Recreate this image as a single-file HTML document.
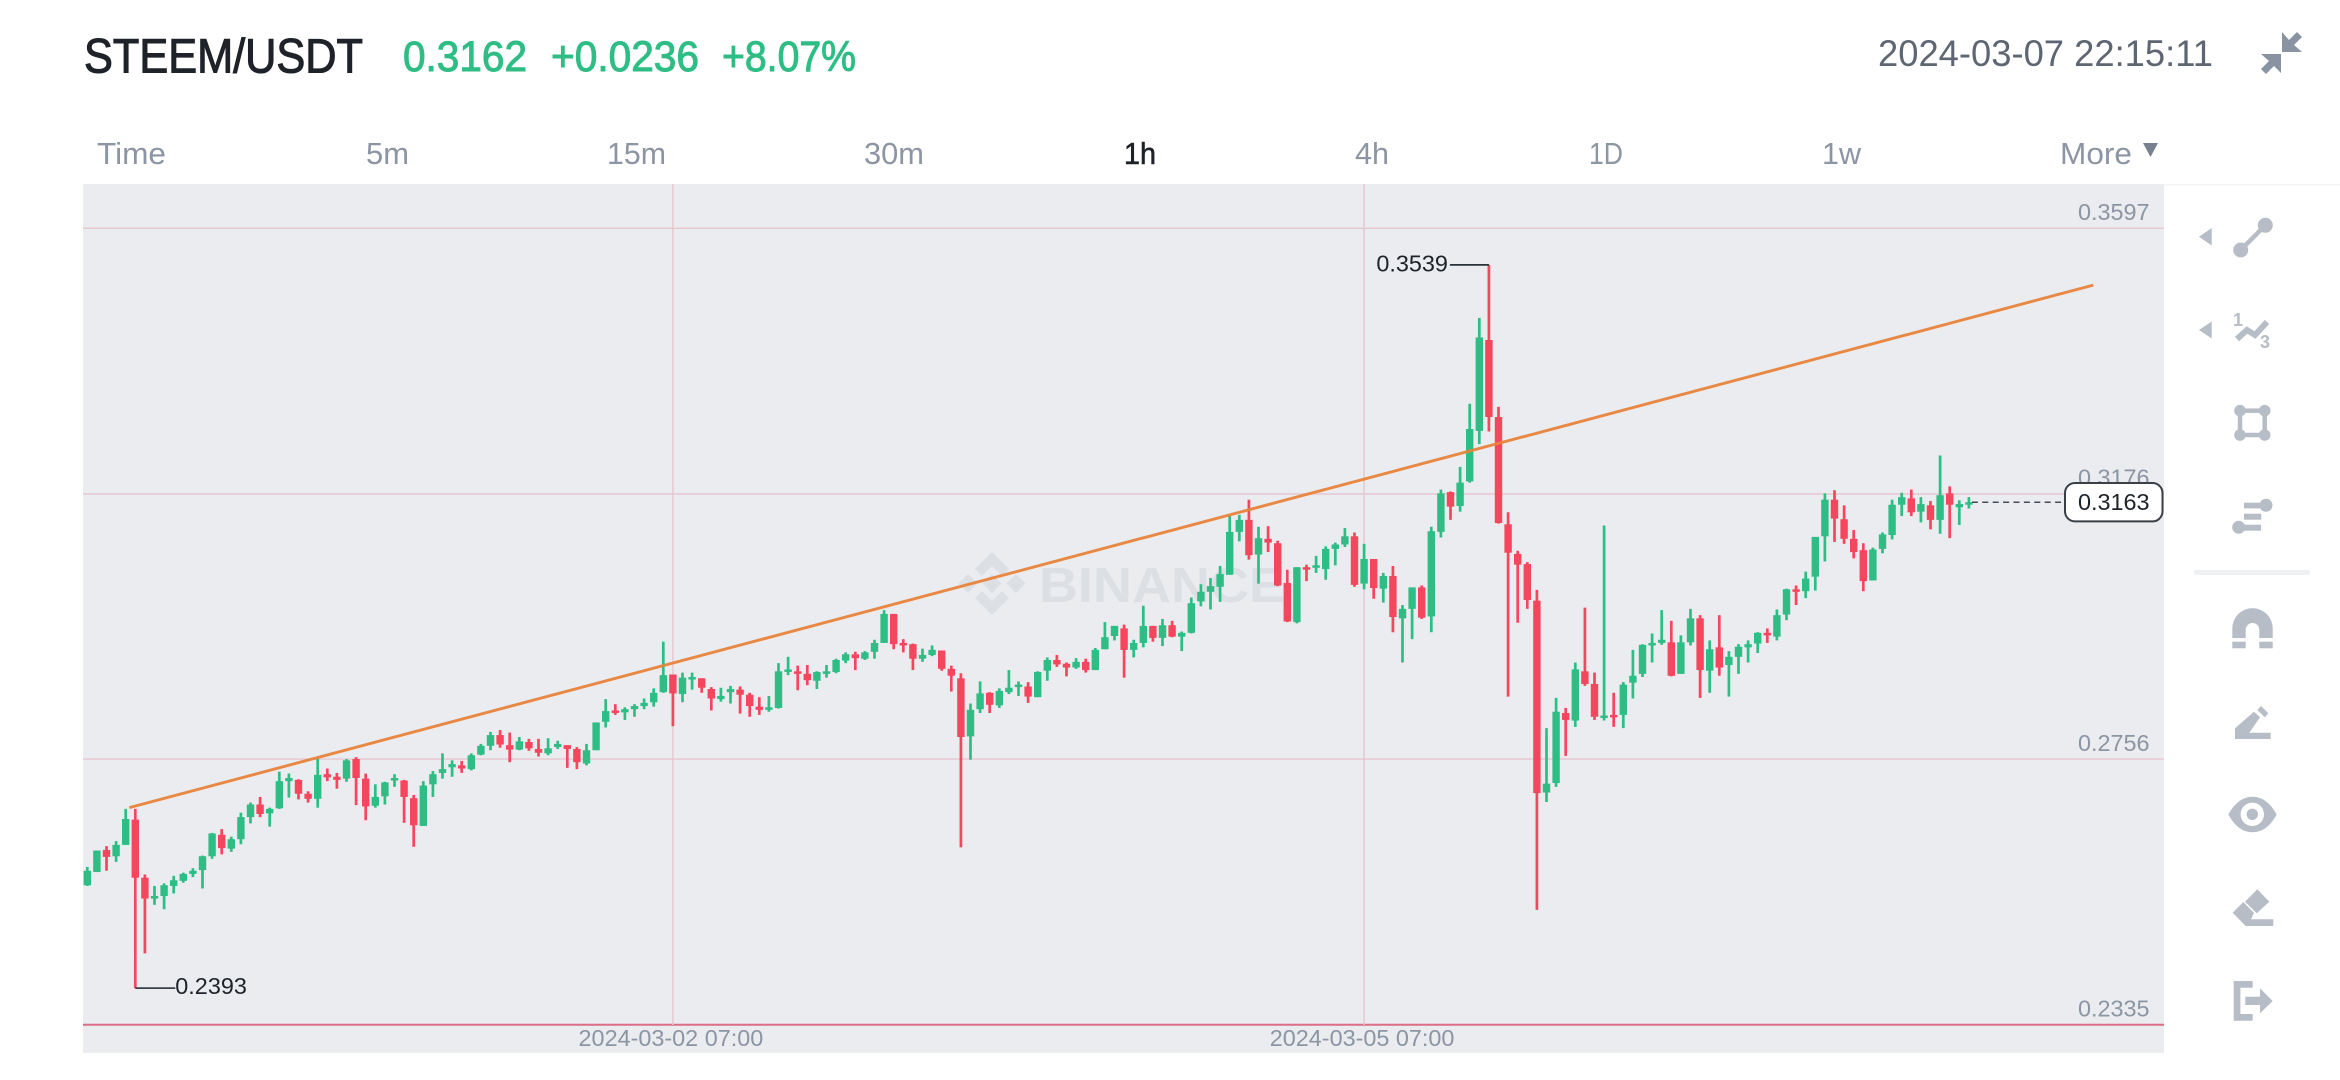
<!DOCTYPE html>
<html lang="en">
<head>
<meta charset="utf-8">
<title>STEEM/USDT chart</title>
<style>
html,body{margin:0;padding:0;background:#fff;width:2340px;height:1080px;overflow:hidden}
svg{display:block}
text{font-family:"Liberation Sans",sans-serif}
</style>
</head>
<body>
<svg id="page" xmlns="http://www.w3.org/2000/svg" width="2340" height="1080" viewBox="0 0 2340 1080">
  <rect x="0" y="0" width="2340" height="1080" fill="#ffffff"/>

  <g>
    <text x="84" y="72.5" font-size="48" fill="#1E2329" stroke="#1E2329" stroke-width="1.1" textLength="279" lengthAdjust="spacingAndGlyphs">STEEM/USDT</text>
    <text x="403" y="71" font-size="43" fill="#2EBD85" stroke="#2EBD85" stroke-width="1" textLength="124" lengthAdjust="spacingAndGlyphs">0.3162</text>
    <text x="551" y="71" font-size="43" fill="#2EBD85" stroke="#2EBD85" stroke-width="1" textLength="148" lengthAdjust="spacingAndGlyphs">+0.0236</text>
    <text x="722" y="71" font-size="43" fill="#2EBD85" stroke="#2EBD85" stroke-width="1" textLength="134" lengthAdjust="spacingAndGlyphs">+8.07%</text>
    <text x="1878" y="66" font-size="37" fill="#5E6673" textLength="335" lengthAdjust="spacingAndGlyphs">2024-03-07 22:15:11</text>
    <g fill="#8A93A2">
      <polygon points="2282,32 2289,40 2297,32 2302,37 2294,45 2302,52 2282,52"/>
      <polygon points="2261,54 2281,54 2281,73 2274,66 2266,74 2261,69 2269,61"/>
    </g>
  </g>

  <g font-size="31" fill="#8C95A3">
    <text x="97" y="164" textLength="69" lengthAdjust="spacingAndGlyphs">Time</text>
    <text x="366" y="164" textLength="43" lengthAdjust="spacingAndGlyphs">5m</text>
    <text x="607" y="164" textLength="59" lengthAdjust="spacingAndGlyphs">15m</text>
    <text x="864" y="164" textLength="60" lengthAdjust="spacingAndGlyphs">30m</text>
    <text x="1124" y="164" fill="#1E2329" stroke="#1E2329" stroke-width="0.6" textLength="32" lengthAdjust="spacingAndGlyphs">1h</text>
    <text x="1355" y="164" textLength="34" lengthAdjust="spacingAndGlyphs">4h</text>
    <text x="1589" y="164" textLength="34" lengthAdjust="spacingAndGlyphs">1D</text>
    <text x="1822" y="164" textLength="39" lengthAdjust="spacingAndGlyphs">1w</text>
    <text x="2060" y="164" textLength="72" lengthAdjust="spacingAndGlyphs">More</text>
    <polygon points="2143,143 2158,143 2150.5,157" fill="#76808F"/>
  </g>

  <rect x="83" y="184" width="2081" height="869" fill="#EAECEF"/>
  <rect x="2164" y="184" width="176" height="1.5" fill="#F3F4F5"/>

  <g fill="#DCDFE3">
    <path d="M992 552 L1009 569 L1002 576 L992 566 L982 576 L975 569 Z M992 615 L975 598 L982 591 L992 601 L1002 591 L1009 598 Z M992 574 L1001.5 583.5 L992 593 L982.500 583.500 Z M968 574 L977.500 583.500 L968 593 L958.500 583.500 Z M1016 574 L1025.500 583.500 L1016 593 L1006.500 583.500 Z"/>
    <text x="1039" y="602" font-size="49" font-weight="700" textLength="246" lengthAdjust="spacingAndGlyphs">BINANCE</text>
  </g>

  <g id="grid"></g>
  <g id="candles"></g>
  <g id="overlays"></g>
  <g id="axis"></g>

  <g fill="#B7BDC6">
    <polygon points="2199,236.700 2211.700,228 2211.700,245.500"/>
    <g>
      <line x1="2240.700" y1="250" x2="2265.300" y2="225.300" stroke="#B7BDC6" stroke-width="4.500"/>
      <circle cx="2265.300" cy="225.300" r="7.500"/>
      <circle cx="2240.700" cy="250" r="7.500"/>
    </g>
    <polygon points="2199,330 2211.700,321.500 2211.700,338.500"/>
    <g>
      <polyline points="2237,339 2247,330 2255,335 2267,322" fill="none" stroke="#B7BDC6" stroke-width="6"/>
      <text x="2233" y="326" font-size="18" font-weight="700">1</text>
      <text x="2260" y="348" font-size="18" font-weight="700">3</text>
    </g>
    <g>
      <rect x="2240" y="410.700" width="24.700" height="24.300" fill="none" stroke="#B7BDC6" stroke-width="4.500"/>
      <circle cx="2240" cy="410.700" r="5.800"/><circle cx="2264.700" cy="410.700" r="5.800"/>
      <circle cx="2240" cy="435" r="5.800"/><circle cx="2264.700" cy="435" r="5.800"/>
    </g>
    <g>
      <rect x="2244" y="502.700" width="22" height="5.700"/><circle cx="2266" cy="505.300" r="6.500"/>
      <rect x="2244" y="513.700" width="17.300" height="6"/>
      <rect x="2238" y="524.700" width="23" height="6"/><circle cx="2238.700" cy="527.300" r="6.500"/>
    </g>
    <rect x="2194" y="570" width="116" height="5" fill="#EFF1F3"/>
    <g>
      <path d="M2232.300 638 V628.300 A20.200 20.200 0 0 1 2272.700 628.300 V638 H2259.300 V629.800 A6.800 6.800 0 0 0 2245.700 629.800 V638 Z"/>
      <rect x="2232.300" y="641.700" width="13.400" height="6.600"/>
      <rect x="2259.300" y="641.700" width="13.400" height="6.600"/>
    </g>
    <g>
      <polygon points="2235,728.300 2254,711.700 2260,717.300 2249.300,732.700 2270.700,732.700 2270.700,739 2235,739"/>
      <polygon points="2261,706 2268.300,713.300 2265,717.300 2257.300,710"/>
    </g>
    <g>
      <path d="M2228.300 814.500 Q2238 796.700 2252.500 796.700 Q2267 796.700 2276.700 814.500 Q2267 832.300 2252.500 832.300 Q2238 832.300 2228.300 814.500 Z"/>
      <circle cx="2252.300" cy="814.300" r="11.700" fill="#ffffff"/>
      <circle cx="2252.300" cy="814.300" r="5.700"/>
    </g>
    <g>
      <polygon points="2257.300,889.300 2269.300,901.700 2256.700,913.300 2245,901.700"/>
      <polygon points="2232.700,912.700 2243.300,902 2254,913 2251,919.300 2273.300,919.300 2273.300,926 2245.700,926"/>
    </g>
    <g>
      <path d="M2252.700 981 H2233.700 V1020.700 H2252.700 V1014 H2240.400 V987.700 H2252.700 Z"/>
      <polygon points="2245.300,996.700 2260,996.700 2260,988.300 2272.700,1001 2260,1013.300 2260,1005 2245.300,1005"/>
    </g>
  </g>
</svg>

<script>
const opens=[.2556,.2577,.2612,.2602,.2620,.2660,.2568,.2535,.2539,.2555,.2563,.2574,.2580,.2602,.2636,.2614,.2629,.2664,.2684,.2670,.2678,.2721,.2723,.2701,.2693,.2732,.2728,.2725,.2756,.2725,.2682,.2697,.2722,.2722,.2694,.2650,.2716,.2734,.2743,.2746,.2740,.2763,.2777,.2794,.2778,.2771,.2783,.2772,.2765,.2775,.2778,.2772,.2749,.2770,.2815,.2833,.2830,.2835,.2840,.2846,.2862,.2890,.2859,.2882,.2884,.2867,.2851,.2862,.2866,.2858,.2839,.2834,.2837,.2894,.2895,.2891,.2880,.2891,.2894,.2912,.2922,.2915,.2926,.2940,.2986,.2940,.2938,.2915,.2921,.2928,.2899,.2884,.2792,.2835,.2861,.2841,.2862,.2871,.2871,.2854,.2896,.2913,.2907,.2901,.2910,.2897,.2930,.2951,.2963,.2929,.2940,.2967,.2948,.2968,.2950,.2956,.3006,.3021,.3029,.3048,.3116,.3135,.3080,.3105,.3098,.3035,.2973,.3060,.3059,.3057,.3089,.3096,.3109,.3034,.3073,.3026,.3046,.2979,.2994,.3028,.2982,.3116,.3179,.3157,.3196,.3276,.3420,.3298,.3128,.3081,.3065,.3007,.2703,.2718,.2829,.2817,.2895,.2875,.2822,.2826,.2826,.2877,.2891,.2937,.2940,.2941,.2891,.2941,.2979,.2896,.2933,.2905,.2918,.2933,.2939,.2956,.2950,.2985,.3025,.3022,.3045,.3109,.3167,.3136,.3105,.3087,.3039,.3089,.3111,.3159,.3169,.3148,.3158,.3135,.3177,.3155,.3162];
const highs=[.2585,.2611,.2618,.2626,.2677,.2677,.2573,.2555,.2559,.2571,.2576,.2583,.2603,.2639,.2645,.2633,.2671,.2687,.2696,.2679,.2736,.2733,.2724,.2705,.2757,.2741,.2734,.2756,.2759,.2733,.2716,.2720,.2732,.2723,.2699,.2721,.2737,.2765,.2754,.2753,.2765,.2780,.2799,.2802,.2798,.2791,.2788,.2788,.2789,.2785,.2778,.2775,.2780,.2814,.2851,.2843,.2838,.2843,.2852,.2868,.2942,.2890,.2893,.2893,.2884,.2870,.2869,.2872,.2871,.2861,.2854,.2856,.2908,.2918,.2904,.2905,.2895,.2905,.2915,.2925,.2926,.2927,.2945,.2992,.2986,.2946,.2939,.2931,.2936,.2928,.2904,.2892,.2844,.2879,.2862,.2868,.2897,.2879,.2878,.2895,.2917,.2921,.2909,.2916,.2915,.2932,.2973,.2967,.2969,.2945,.2999,.2967,.2978,.2975,.2958,.3012,.3033,.3043,.3062,.3141,.3143,.3167,.3124,.3125,.3102,.3056,.3060,.3064,.3078,.3093,.3099,.3122,.3115,.3097,.3073,.3051,.3062,.3000,.3028,.3031,.3124,.3183,.3180,.3219,.3319,.3455,.3539,.3314,.3147,.3086,.3068,.3024,.2805,.2853,.2837,.2909,.2996,.2893,.3126,.2861,.2878,.2929,.2938,.2955,.2992,.2975,.2952,.2994,.2984,.2944,.2984,.2927,.2938,.2944,.2957,.2963,.2993,.3026,.3031,.3053,.3108,.3177,.3182,.3158,.3119,.3098,.3091,.3115,.3167,.3178,.3183,.3171,.3165,.3237,.3188,.3166,.3171];
const lows=[.2555,.2577,.2579,.2593,.2620,.2393,.2448,.2525,.2518,.2543,.2560,.2569,.2551,.2598,.2605,.2609,.2621,.2654,.2664,.2649,.2677,.2695,.2692,.2687,.2679,.2721,.2709,.2720,.2683,.2659,.2679,.2684,.2712,.2655,.2617,.2650,.2696,.2725,.2728,.2734,.2738,.2762,.2770,.2774,.2751,.2770,.2769,.2760,.2762,.2772,.2742,.2740,.2746,.2770,.2806,.2826,.2818,.2823,.2835,.2839,.2861,.2808,.2846,.2866,.2861,.2833,.2847,.2844,.2828,.2823,.2826,.2831,.2836,.2889,.2865,.2873,.2867,.2885,.2892,.2908,.2897,.2913,.2915,.2940,.2930,.2925,.2897,.2910,.2919,.2896,.2863,.2616,.2755,.2829,.2829,.2837,.2859,.2856,.2845,.2854,.2880,.2902,.2887,.2899,.2893,.2897,.2930,.2944,.2885,.2917,.2933,.2942,.2935,.2949,.2927,.2955,.2998,.2993,.3005,.3048,.3101,.3072,.3034,.3084,.3030,.2973,.2971,.3038,.3051,.3040,.3063,.3092,.3029,.3025,.3010,.3004,.2957,.2909,.2946,.2978,.2957,.3107,.3135,.3148,.3194,.3255,.3275,.3129,.2855,.2972,.2994,.2517,.2688,.2712,.2761,.2807,.2872,.2818,.2817,.2807,.2805,.2852,.2886,.2909,.2937,.2887,.2891,.2936,.2853,.2861,.2888,.2855,.2891,.2909,.2924,.2940,.2944,.2976,.3000,.3011,.3023,.3069,.3100,.3097,.3074,.3022,.3039,.3082,.3104,.3141,.3141,.3131,.3120,.3113,.3106,.3127,.3153];
const closes=[.2579,.2611,.2601,.2620,.2661,.2568,.2535,.2539,.2556,.2564,.2574,.2579,.2602,.2638,.2615,.2629,.2664,.2684,.2669,.2677,.2721,.2726,.2701,.2693,.2731,.2727,.2723,.2754,.2726,.2681,.2696,.2719,.2726,.2696,.2651,.2714,.2732,.2740,.2748,.2741,.2762,.2777,.2794,.2779,.2771,.2784,.2773,.2766,.2773,.2780,.2772,.2751,.2770,.2814,.2832,.2829,.2835,.2840,.2845,.2861,.2889,.2860,.2885,.2886,.2869,.2852,.2856,.2867,.2858,.2840,.2834,.2838,.2895,.2898,.2891,.2881,.2894,.2895,.2913,.2922,.2916,.2925,.2940,.2986,.2938,.2936,.2915,.2921,.2929,.2899,.2888,.2791,.2834,.2860,.2842,.2864,.2869,.2874,.2855,.2894,.2913,.2906,.2901,.2910,.2897,.2929,.2949,.2967,.2929,.2940,.2967,.2948,.2968,.2950,.2956,.3003,.3021,.3030,.3049,.3116,.3135,.3079,.3106,.3099,.3031,.2974,.3060,.3056,.3063,.3089,.3096,.3109,.3032,.3073,.3027,.3046,.2981,.2994,.3028,.2980,.3117,.3177,.3156,.3194,.3279,.3424,.3298,.3130,.3083,.3064,.3008,.2702,.2717,.2831,.2818,.2898,.2875,.2823,.2825,.2823,.2874,.2888,.2937,.2940,.2945,.2888,.2941,.2979,.2897,.2930,.2901,.2918,.2934,.2938,.2956,.2952,.2984,.3025,.3021,.3042,.3108,.3167,.3137,.3105,.3084,.3038,.3088,.3112,.3159,.3171,.3147,.3160,.3135,.3174,.3159,.3160,.3163];

const priceTicks=[0.3597,0.3176,0.2756,0.2335];
const priceTickLabels=['0.3597','0.3176','0.2756','0.2335'];
const timeTickIndexes=[61,133];
const timeTickLabels=['2024-03-02 07:00','2024-03-05 07:00'];
const lastPrice=[0.3163];
const lastPriceLabel=['0.3163'];
const highLabel=['0.3539'];
const lowLabel=['0.2393'];
const trendStartPoint=[4.375,0.2679];
const trendEndPoint=[208.96,0.3507];

const NS='http://www.w3.org/2000/svg';
function xAt(i){return 87.3+9.6*i;}
function yAt(p){return 228.3+(0.3597-p)*6311;}
function make(parent,tag,attrs,text){
  const el=document.createElementNS(NS,tag);
  for(const k in attrs){el.setAttribute(k,attrs[k]);}
  if(text!==undefined){el.textContent=text;}
  parent.appendChild(el);
  return el;
}

const gridLayer=document.getElementById('grid');
const candleLayer=document.getElementById('candles');
const overlayLayer=document.getElementById('overlays');
const axisLayer=document.getElementById('axis');

priceTicks.forEach(function(p,i){
  const isBase=i===priceTicks.length-1;
  const line=make(gridLayer,'line',{x1:83,x2:2164,y1:yAt(p),y2:yAt(p),stroke:isBase?'#DB6F88':'#E6C6CF','stroke-width':isBase?2:1.4});
  
  
});
timeTickIndexes.forEach(function(t){
  const line=make(gridLayer,'line',{x1:xAt(t),x2:xAt(t),y1:184,y2:1025,stroke:'#E6C6CF','stroke-width':1.4});
  
  
});

opens.forEach(function(o,i){
  const c=closes[i];
  const color=c>=o?'#2EBD85':'#F6465D';
  const group=make(candleLayer,'g',{});
  
  
  const wick=make(group,'line',{x1:xAt(i),x2:xAt(i),y1:yAt(highs[i]),y2:yAt(lows[i]),stroke:color,'stroke-width':2.7});
  
  
  const top=yAt(Math.max(o,c));
  const h=Math.max(Math.abs(yAt(o)-yAt(c)),2.5);
  const body=make(group,'rect',{x:xAt(i)-3.7,y:top,width:7.4,height:h,fill:color});
  
  
});

const trend=make(overlayLayer,'line',{x1:xAt(trendStartPoint[0]),y1:yAt(trendStartPoint[1]),x2:xAt(trendEndPoint[0]),y2:yAt(trendEndPoint[1]),stroke:'#E8833A','stroke-width':2.9,opacity:0.95});



const maxHigh=Math.max.apply(null,highs);
const minLow=Math.min.apply(null,lows);
const highX=xAt(highs.indexOf(maxHigh));
const lowX=xAt(lows.indexOf(minLow));

const highLeader=make(overlayLayer,'line',{x1:highX-39,x2:highX,y1:yAt(maxHigh),y2:yAt(maxHigh),stroke:'#2B3139','stroke-width':1.7});


const highText=make(overlayLayer,'text',{x:highX-112.500,y:yAt(maxHigh)+6.500,'font-size':23.4,fill:'#1E2329'},highLabel[0]);



const lowLeader=make(overlayLayer,'line',{x1:lowX,x2:lowX+40,y1:yAt(minLow),y2:yAt(minLow),stroke:'#3A4048','stroke-width':1.7});


const lowText=make(overlayLayer,'text',{x:lowX+40,y:yAt(minLow)+6,'font-size':23.4,fill:'#1E2329'},lowLabel[0]);



priceTicks.forEach(function(p,i){
  const label=make(axisLayer,'text',{x:2149.5,y:yAt(p)-8.300,'text-anchor':'end','font-size':23.4,fill:'#8C95A3'},priceTickLabels[i]);
  
  
});
timeTickIndexes.forEach(function(t,i){
  const label=make(axisLayer,'text',{x:xAt(t)-2,y:1046,'text-anchor':'middle','font-size':23.4,fill:'#8C95A3'},timeTickLabels[i]);
  
  
});

const lastY=yAt(lastPrice[0]);
const lastX=xAt(opens.length-1);
const dash=make(axisLayer,'line',{x1:lastX+3,x2:2064,y1:lastY,y2:lastY,stroke:'#474D57','stroke-width':1.5,'stroke-dasharray':'6 4.400'});


const badge=make(axisLayer,'rect',{x:2065,y:lastY-19.200,width:97.500,height:38.400,rx:10,ry:10,fill:'#ffffff',stroke:'#3A4048','stroke-width':2});


const badgeText=make(axisLayer,'text',{x:2149.5,y:lastY+8,'text-anchor':'end','font-size':23.4,fill:'#1E2329'},lastPriceLabel[0]);


</script>
</body>
</html>
